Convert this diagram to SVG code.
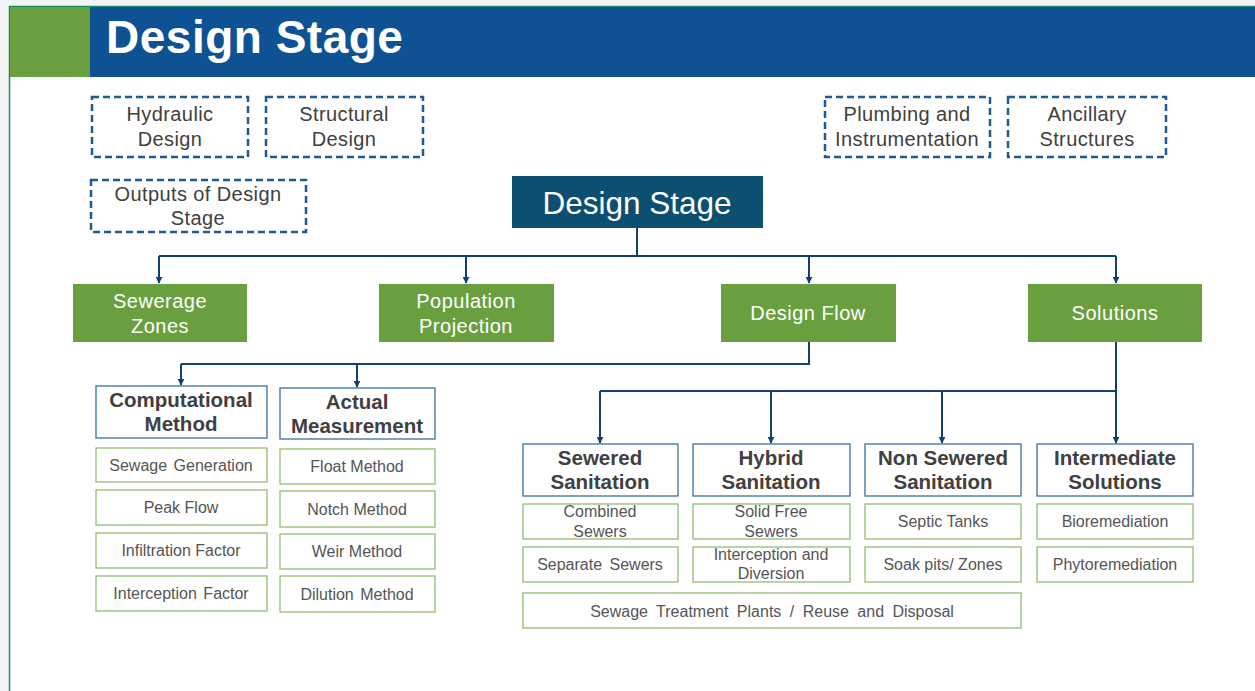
<svg xmlns="http://www.w3.org/2000/svg" width="1255" height="691" viewBox="0 0 1255 691">
<defs>
<marker id="arr" viewBox="0 0 10 10" refX="9" refY="5" markerWidth="7" markerHeight="7" orient="auto" markerUnits="userSpaceOnUse">
<path d="M0,0 L10,5 L0,10 z" fill="#123f75"/>
</marker>
<style>
text{font-family:"Liberation Sans",Arial,sans-serif;text-anchor:middle}
.dash{fill:#fff;stroke:#1f5a92;stroke-width:2.5;stroke-dasharray:7 4}
.dt{font-size:20px;fill:#404040;letter-spacing:0.4px}
.green{fill:#6a9f40}
.gt{font-size:20px;fill:#fff;letter-spacing:0.5px}
.hdr{fill:#fff;stroke:#3a70a4;stroke-width:1.3}
.ht{font-size:20.5px;font-weight:bold;fill:#404040}
.sub{fill:#fff;stroke:#92bd72;stroke-width:1.3}
.st{font-size:16px;fill:#555}
.conn{fill:none;stroke:#123f75;stroke-width:2}
</style>
</defs>
<rect x="0" y="0" width="1255" height="691" fill="#f2f4f4"/>
<rect x="9" y="6" width="1246" height="685" fill="#fff"/>
<line x1="9.5" y1="6" x2="9.5" y2="691" stroke="#1a8a6a" stroke-width="1.5"/>
<line x1="9" y1="6.5" x2="1255" y2="6.5" stroke="#1a8a6a" stroke-width="1.5"/>
<rect x="10" y="7" width="80" height="70" fill="#6a9f40"/>
<rect x="90" y="7" width="1165" height="70" fill="#0f5294"/>
<text x="106" y="53" style="text-anchor:start;font-size:46px;font-weight:bold;fill:#fff;letter-spacing:0.5px">Design Stage</text>

<g id="connectors">
<polyline class="conn" points="637,228 637,256"/>
<line class="conn" x1="159" y1="256" x2="1116" y2="256"/>
<line class="conn" x1="159" y1="256" x2="159" y2="283" marker-end="url(#arr)"/>
<line class="conn" x1="466" y1="256" x2="466" y2="283" marker-end="url(#arr)"/>
<line class="conn" x1="809" y1="256" x2="809" y2="283" marker-end="url(#arr)"/>
<line class="conn" x1="1116" y1="256" x2="1116" y2="283" marker-end="url(#arr)"/>
<polyline class="conn" points="809,342 809,364 181,364"/>
<line class="conn" x1="181" y1="364" x2="181" y2="385" marker-end="url(#arr)"/>
<line class="conn" x1="357" y1="364" x2="357" y2="387" marker-end="url(#arr)"/>
<polyline class="conn" points="1116,342 1116,391 600,391"/>
<line class="conn" x1="600" y1="391" x2="600" y2="443" marker-end="url(#arr)"/>
<line class="conn" x1="771" y1="391" x2="771" y2="443" marker-end="url(#arr)"/>
<line class="conn" x1="942" y1="391" x2="942" y2="443" marker-end="url(#arr)"/>
<line class="conn" x1="1116" y1="391" x2="1116" y2="443" marker-end="url(#arr)"/>
</g>

<g id="hydraulic"><rect class="dash" x="92" y="97" width="156" height="60"/><text class="dt" x="170" y="121">Hydraulic</text><text class="dt" x="170" y="146">Design</text></g>
<g id="structural"><rect class="dash" x="266" y="97" width="157" height="60"/><text class="dt" x="344" y="121">Structural</text><text class="dt" x="344" y="146">Design</text></g>
<g id="outputs"><rect class="dash" x="91" y="180" width="215" height="52"/><text class="dt" x="198" y="201">Outputs of Design</text><text class="dt" x="198" y="225">Stage</text></g>
<g id="plumbing"><rect class="dash" x="825" y="97" width="165" height="60"/><text class="dt" x="907" y="121">Plumbing and</text><text class="dt" x="907" y="146">Instrumentation</text></g>
<g id="ancillary"><rect class="dash" x="1008" y="97" width="158" height="60"/><text class="dt" x="1087" y="121">Ancillary</text><text class="dt" x="1087" y="146">Structures</text></g>

<g id="design-stage"><rect x="512" y="176" width="251" height="52" fill="#0d4f70"/><text x="637" y="214" style="font-size:31.5px;fill:#fff">Design Stage</text></g>

<g id="sewerage-zones"><rect class="green" x="73" y="284" width="174" height="58"/><text class="gt" x="160" y="308">Sewerage</text><text class="gt" x="160" y="333">Zones</text></g>
<g id="population"><rect class="green" x="379" y="284" width="175" height="58"/><text class="gt" x="466" y="308">Population</text><text class="gt" x="466" y="333">Projection</text></g>
<g id="design-flow"><rect class="green" x="721" y="284" width="175" height="58"/><text class="gt" x="808" y="320">Design Flow</text></g>
<g id="solutions"><rect class="green" x="1028" y="284" width="174" height="58"/><text class="gt" x="1115" y="320">Solutions</text></g>

<g id="computational"><rect class="hdr" x="96" y="386" width="171" height="52"/><text class="ht" x="181" y="407">Computational</text><text class="ht" x="181" y="431">Method</text></g>
<g id="actual"><rect class="hdr" x="280" y="388" width="155" height="51"/><text class="ht" x="357" y="409">Actual</text><text class="ht" x="357" y="433">Measurement</text></g>

<g id="sewage-generation"><rect class="sub" x="96" y="448" width="171" height="34"/><text class="st" x="181" y="471" word-spacing="2">Sewage Generation</text></g>
<g id="peak-flow"><rect class="sub" x="96" y="490" width="171" height="35"/><text class="st" x="181" y="513">Peak Flow</text></g>
<g id="infiltration"><rect class="sub" x="96" y="533" width="171" height="35"/><text class="st" x="181" y="556">Infiltration Factor</text></g>
<g id="interception-factor"><rect class="sub" x="96" y="576" width="171" height="35"/><text class="st" x="181" y="599" word-spacing="2">Interception Factor</text></g>

<g id="float"><rect class="sub" x="280" y="449" width="155" height="35"/><text class="st" x="357" y="472">Float Method</text></g>
<g id="notch"><rect class="sub" x="280" y="491" width="155" height="36"/><text class="st" x="357" y="515">Notch Method</text></g>
<g id="weir"><rect class="sub" x="280" y="534" width="155" height="35"/><text class="st" x="357" y="557">Weir Method</text></g>
<g id="dilution"><rect class="sub" x="280" y="576" width="155" height="36"/><text class="st" x="357" y="600" word-spacing="2">Dilution Method</text></g>

<g id="sewered"><rect class="hdr" x="523" y="444" width="155" height="52"/><text class="ht" x="600" y="465">Sewered</text><text class="ht" x="600" y="489">Sanitation</text></g>
<g id="hybrid"><rect class="hdr" x="693" y="444" width="157" height="52"/><text class="ht" x="771" y="465">Hybrid</text><text class="ht" x="771" y="489">Sanitation</text></g>
<g id="non-sewered"><rect class="hdr" x="865" y="444" width="156" height="52"/><text class="ht" x="943" y="465">Non Sewered</text><text class="ht" x="943" y="489">Sanitation</text></g>
<g id="intermediate"><rect class="hdr" x="1037" y="444" width="156" height="52"/><text class="ht" x="1115" y="465">Intermediate</text><text class="ht" x="1115" y="489">Solutions</text></g>

<g id="combined"><rect class="sub" x="523" y="504" width="155" height="35"/><text class="st" x="600" y="517">Combined</text><text class="st" x="600" y="537">Sewers</text></g>
<g id="separate"><rect class="sub" x="523" y="547" width="155" height="35"/><text class="st" x="600" y="570" word-spacing="3">Separate Sewers</text></g>
<g id="solid-free"><rect class="sub" x="693" y="504" width="157" height="35"/><text class="st" x="771" y="517">Solid Free</text><text class="st" x="771" y="537">Sewers</text></g>
<g id="interception-diversion"><rect class="sub" x="693" y="547" width="157" height="35"/><text class="st" x="771" y="560">Interception and</text><text class="st" x="771" y="579">Diversion</text></g>
<g id="septic"><rect class="sub" x="865" y="504" width="156" height="35"/><text class="st" x="943" y="527">Septic Tanks</text></g>
<g id="soak-pits"><rect class="sub" x="865" y="547" width="156" height="35"/><text class="st" x="943" y="570">Soak pits/ Zones</text></g>
<g id="bioremediation"><rect class="sub" x="1037" y="504" width="156" height="35"/><text class="st" x="1115" y="527">Bioremediation</text></g>
<g id="phytoremediation"><rect class="sub" x="1037" y="547" width="156" height="35"/><text class="st" x="1115" y="570">Phytoremediation</text></g>
<g id="stp"><rect class="sub" x="523" y="593" width="498" height="35"/><text class="st" x="772" y="617" word-spacing="4">Sewage Treatment Plants / Reuse and Disposal</text></g>
</svg>
